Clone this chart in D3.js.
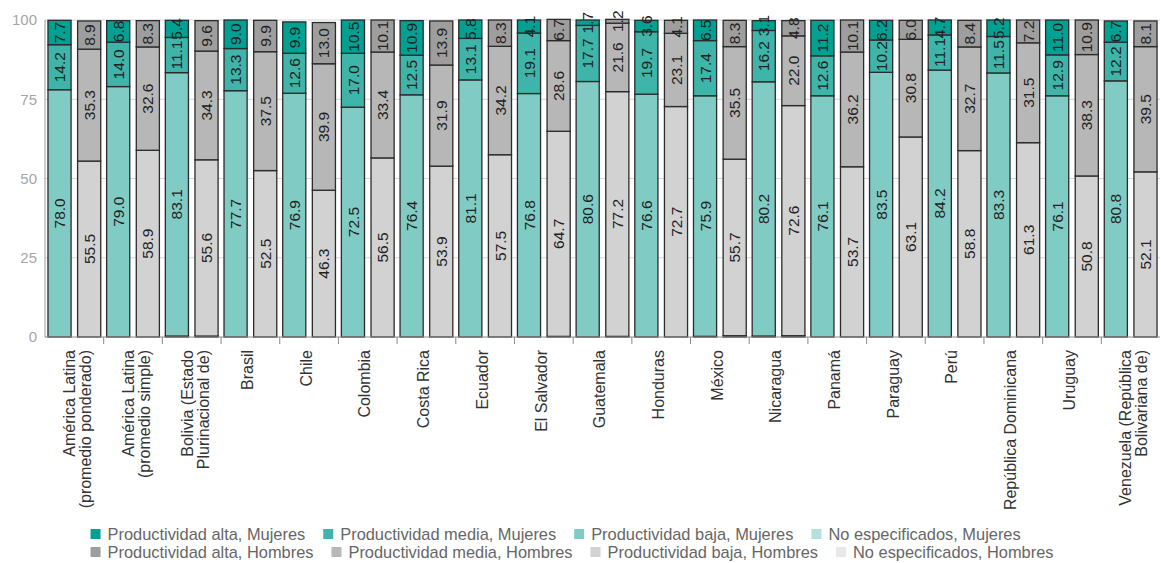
<!DOCTYPE html>
<html>
<head>
<meta charset="utf-8">
<script src="https://cdn.jsdelivr.net/npm/d3@7"></script>
<style>
  body { margin: 0; background: #fff; }
  svg { display: block; font-family: "Liberation Sans", Arial, sans-serif; }
</style>
</head>
<body>
<svg id="chart" width="1161" height="563"></svg>
<script>
// categories (line breaks as in the picture)
const countries = [
  ["América Latina", "(promedio ponderado)"],
  ["América Latina", "(promedio simple)"],
  ["Bolivia (Estado", "Plurinacional de)"],
  ["Brasil"], ["Chile"], ["Colombia"], ["Costa Rica"], ["Ecuador"],
  ["El Salvador"], ["Guatemala"], ["Honduras"], ["México"], ["Nicaragua"],
  ["Panamá"], ["Paraguay"], ["Perú"], ["República Dominicana"], ["Uruguay"],
  ["Venezuela (República", "Bolivariana de)"]
];

// Mujeres
const mujAlta  = [7.7, 6.8, 5.4, 9.0, 9.9, 10.5, 10.9, 5.8, 4.1, 1.7, 3.6, 6.5, 3.1, 11.2, 6.2, 4.7, 5.2, 11.0, 6.7];
const mujMedia = [14.2, 14.0, 11.1, 13.3, 12.6, 17.0, 12.5, 13.1, 19.1, 17.7, 19.7, 17.4, 16.2, 12.6, 10.2, 11.1, 11.5, 12.9, 12.2];
const mujBaja  = [78.0, 79.0, 83.1, 77.7, 76.9, 72.5, 76.4, 81.1, 76.8, 80.6, 76.6, 75.9, 80.2, 76.1, 83.5, 84.2, 83.3, 76.1, 80.8];
const mujNoEsp = [0, 0, 0.3, 0, 0, 0, 0, 0, 0, 0, 0, 0.2, 0.3, 0, 0, 0, 0, 0, 0];

// Hombres
const homAlta  = [8.9, 8.3, 9.6, 9.9, 13.0, 10.1, 13.9, 8.3, 6.7, 1.2, 4.1, 8.3, 4.8, 10.1, 6.0, 8.4, 7.2, 10.9, 8.1];
const homMedia = [35.3, 32.6, 34.3, 37.5, 39.9, 33.4, 31.9, 34.2, 28.6, 21.6, 23.1, 35.5, 22.0, 36.2, 30.8, 32.7, 31.5, 38.3, 39.5];
const homBaja  = [55.5, 58.9, 55.6, 52.5, 46.3, 56.5, 53.9, 57.5, 64.7, 77.2, 72.7, 55.7, 72.6, 53.7, 63.1, 58.8, 61.3, 50.8, 52.1];
const homNoEsp = [0, 0, 0.3, 0, 0, 0, 0, 0, 0.2, 0.2, 0, 0.4, 0.4, 0, 0, 0, 0, 0, 0];

const yTicks = [0, 25, 50, 75, 100];

const legendItems = [
  ["Productividad alta, Mujeres", "#00a092"],
  ["Productividad media, Mujeres", "#3fb4a8"],
  ["Productividad baja, Mujeres", "#80ccc5"],
  ["No especificados, Mujeres", "#b5e0dc"],
  ["Productividad alta, Hombres", "#9e9e9e"],
  ["Productividad media, Hombres", "#b7b7b7"],
  ["Productividad baja, Hombres", "#d2d2d2"],
  ["No especificados, Hombres", "#e8e8e8"]
];

const keys = ["noesp", "baja", "media", "alta"];
const mujColor = { alta: "#00a092", media: "#3fb4a8", baja: "#80ccc5", noesp: "#b5e0dc" };
const homColor = { alta: "#9e9e9e", media: "#b7b7b7", baja: "#d2d2d2", noesp: "#e8e8e8" };

const svg = d3.select("#chart");
const plotLeft = 45, plotRight = 1160, plotTop = 20, plotBottom = 337;

const x = d3.scaleBand().domain(d3.range(countries.length)).range([plotLeft, plotRight]);
const sub = d3.scaleBand().domain(["M", "H"]).range([0, x.bandwidth()])
  .paddingInner(0.22).paddingOuter(0.1);
const y = d3.scaleLinear().domain([0, 100]).range([plotBottom, plotTop]);

// grid
svg.append("g").selectAll("line").data(yTicks.filter(d => d > 0)).join("line")
  .attr("x1", plotLeft).attr("x2", plotRight)
  .attr("y1", d => y(d)).attr("y2", d => y(d))
  .attr("stroke", "#d6d6d6").attr("stroke-width", 1);

svg.append("g").selectAll("text").data(yTicks).join("text")
  .attr("x", 37).attr("y", d => y(d)).attr("dy", "0.35em")
  .attr("text-anchor", "end").attr("font-size", 15).attr("fill", "#a6a6a6")
  .text(d => d);

svg.append("line").attr("x1", plotLeft).attr("x2", plotLeft).attr("y1", plotTop).attr("y2", plotBottom)
  .attr("stroke", "#9a9a9a");

function rows(noesp, baja, media, alta) {
  return countries.map((c, i) => ({ i, noesp: noesp[i], baja: baja[i], media: media[i], alta: alta[i] }));
}

const stack = d3.stack().keys(keys);
const groups = [
  { sex: "M", series: stack(rows(mujNoEsp, mujBaja, mujMedia, mujAlta)), color: mujColor },
  { sex: "H", series: stack(rows(homNoEsp, homBaja, homMedia, homAlta)), color: homColor }
];

groups.forEach(g => {
  const gBars = svg.append("g");
  g.series.forEach(s => {
    gBars.selectAll(null).data(s.filter(d => d[1] - d[0] > 0)).join("rect")
      .attr("x", d => x(d.data.i) + sub(g.sex))
      .attr("width", sub.bandwidth())
      .attr("y", d => y(d[1]))
      .attr("height", d => y(d[0]) - y(d[1]))
      .attr("fill", g.color[s.key])
      .attr("stroke", "#2b2b2b").attr("stroke-width", 1.3);
  });
});

groups.forEach(g => {
  const gLab = svg.append("g");
  g.series.filter(s => s.key !== "noesp").forEach(s => {
    gLab.selectAll(null).data(s.filter(d => d[1] - d[0] >= 1)).join("text")
      .attr("transform", d => `translate(${x(d.data.i) + sub(g.sex) + sub.bandwidth() / 2},${y((d[0] + d[1]) / 2)}) rotate(-90)`)
      .attr("text-anchor", "middle").attr("dy", "0.36em")
      .attr("font-size", 15.5).attr("fill", "#222")
      .text(d => (d[1] - d[0]).toFixed(1));
  });
});

// x axis
svg.append("line").attr("x1", plotLeft).attr("x2", plotRight).attr("y1", plotBottom).attr("y2", plotBottom)
  .attr("stroke", "#8c8c8c").attr("stroke-width", 1.2);
svg.append("g").selectAll("line").data(d3.range(1, countries.length)).join("line")
  .attr("x1", d => x(d)).attr("x2", d => x(d))
  .attr("y1", plotBottom).attr("y2", plotBottom + 7)
  .attr("stroke", "#8c8c8c");

const xl = svg.append("g").selectAll("text").data(countries).join("text")
  .attr("transform", (d, i) => `translate(${x(i) + x.bandwidth() / 2},350) rotate(-90)`)
  .attr("text-anchor", "end").attr("font-size", 16).attr("fill", "#333");
xl.each(function (d) {
  const t = d3.select(this);
  if (d.length === 1) {
    t.append("tspan").attr("x", 0).attr("dy", "0.17em").text(d[0]);
  } else {
    t.append("tspan").attr("x", 0).attr("dy", "0.05em").text(d[0]);
    t.append("tspan").attr("x", 0).attr("dy", "1.0em").text(d[1]);
  }
});

// legend: two rows, left aligned, block centred
const legend = svg.append("g");
const rowsY = [534, 552];
const rowWidths = [];
[0, 1].forEach(r => {
  let cx = 0;
  legendItems.slice(r * 4, r * 4 + 4).forEach(([label, col]) => {
    const it = legend.append("g");
    it.append("rect").attr("x", cx).attr("y", rowsY[r] - 5).attr("width", 10).attr("height", 10).attr("fill", col);
    const tx = it.append("text").attr("x", cx + 17).attr("y", rowsY[r]).attr("dy", "0.35em")
      .attr("font-size", 16.4).attr("fill", "#666").text(label);
    cx += 17 + tx.node().getComputedTextLength() + 18;
  });
  rowWidths.push(cx - 18);
});
const blockW = d3.max(rowWidths);
legend.attr("transform", `translate(${572 - blockW / 2},0)`);
</script>
</body>
</html>
